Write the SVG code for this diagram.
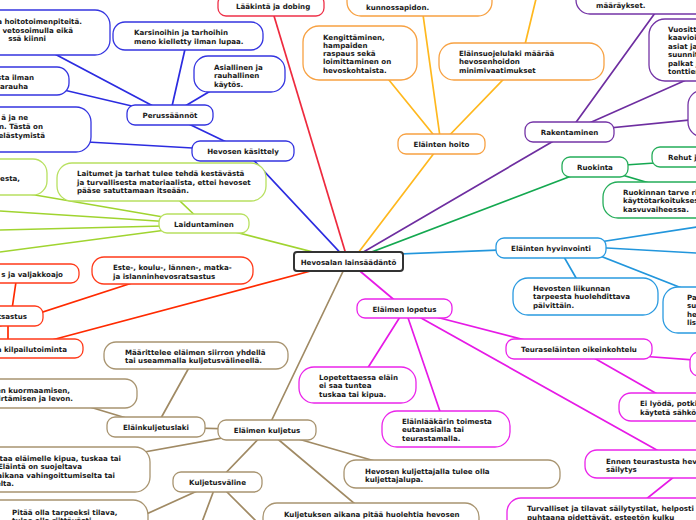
<svg xmlns="http://www.w3.org/2000/svg" width="696" height="520" viewBox="0 0 696 520">
<style>
text{font-family:"DejaVu Sans","Verdana",sans-serif;font-weight:bold;font-size:7.1px;fill:#1a1a1a}
.m{text-anchor:middle}.e{text-anchor:end}
rect{fill:#fff;stroke-width:1.3}
path{fill:none;stroke-width:1.7}
.bl rect{stroke:#3434e0}.bl path,path.bl{stroke:#2c2ce0}
.rd rect{stroke:#ff3a1a}path.rd{stroke:#ff2a00}
.lk rect{stroke:#ee3048}path.lk{stroke:#ee2a3e}
.or rect{stroke:#f7a142}path.or{stroke:#ffb81e}
.pu rect{stroke:#7434a6}path.pu{stroke:#6e2ea0}
.gr rect{stroke:#25ad5a}path.gr{stroke:#14a850}
.lb rect{stroke:#2a9ae0}path.lb{stroke:#2296dc}
.mg rect{stroke:#ea24ea}path.mg{stroke:#e61ae6}
.br rect{stroke:#a89470}path.br{stroke:#a08a64}
.li rect{stroke:#b8e060}path.li{stroke:#a0d430}
</style>
<rect width="696" height="520" style="fill:#fff;stroke:none"/>
<g id="connectors">
<path class="lk" d="M348 261L271 6"/>
<path class="bl" d="M348 261L245 151M170 115L245 151M0 137L245 151M170 115L188 36M170 115L239 74M170 115L0 75M170 115L0 25"/>
<path class="or" d="M352 261L441 144M441 144L367 53M441 144L420 -7M441 144L521 61M521 61L543 -30"/>
<path class="pu" d="M348 261L569 132M569 132L676 -16M569 132L720 65M569 132L720 117"/>
<path class="gr" d="M348 261L595 167M595 167L700 160M595 167L700 198"/>
<path class="lb" d="M360 255.5L551 248M580 245L700 226.5M580 246.5L700 253.2M590 252L720 303M560 250L583 290"/>
<path class="mg" d="M348 261L405 309M405 309L579 354M640 356L720 362M580 350L680 407M405 309L357 385M405 309L446 429M405 309L680 463M690 464L630 512"/>
<path class="br" d="M348 261L267 430M267 430L156 427M156 427L196 355M156 427L60 398M267 430L100 460M267 430L217 482M267 430L420 474M267 430L380 525M217 482L120 526M217 482L199 530M217 482L265 530"/>
<path class="li" d="M348 261L204 224M204 224L160 182M204 224L0 189M204 224L0 211M204 225L0 230M204 225L0 252"/>
<path class="rd" d="M348 261L18 349M8 320L8 345M0 326L172 270M17 275L11 316"/>
</g>
<g id="n-hoitotoimenpiteet" class="bl"><rect x="-60" y="10" width="170" height="45" rx="15"/><text class="e" x="82" y="24">a hoitotoimenpiteitä.</text><text class="e" x="73" y="32.5">i vetosoimulla eikä</text><text class="e" x="46" y="41">ssä kiinni</text></g>
<g id="n-karsinoihin" class="bl"><rect x="113" y="22" width="150" height="28" rx="12"/><text x="134" y="34.5">Karsinoihin ja tarhoihin</text><text x="134" y="43.5">meno kielletty ilman lupaa.</text></g>
<g id="n-asiallinen" class="bl"><rect x="194" y="56" width="91" height="36" rx="14"/><text x="214" y="69.5">Asiallinen ja</text><text x="214" y="78">rauhallinen</text><text x="214" y="86.5">käytös.</text></g>
<g id="n-ilman" class="bl"><rect x="-60" y="67" width="129" height="28" rx="12"/><text class="e" x="34" y="79.5">sta ilman</text><text class="e" x="28" y="88.5">karauha</text></g>
<g id="n-jane" class="bl"><rect x="-60" y="107" width="151" height="45" rx="15"/><text class="e" x="28" y="119.5">ä ja ne</text><text class="e" x="43" y="128.5">n. Tästä on</text><text class="e" x="45" y="137.5">elästymistä</text></g>
<g id="n-perussaannot" class="bl"><rect x="127" y="105" width="86" height="20" rx="8"/><text class="m" x="170" y="117.8">Perussäännöt</text></g>
<g id="n-kasittely" class="bl"><rect x="192" y="141" width="102" height="20" rx="8"/><text class="m" x="243" y="153.8">Hevosen käsittely</text></g>
<g id="n-laakinta" class="lk"><rect x="218" y="-5" width="106" height="21" rx="8"/><text x="236" y="9">Lääkintä ja dobing</text></g>
<g id="n-este" class="rd"><rect x="92" y="257" width="161" height="27" rx="12"/><text x="113" y="269.5">Este-, koulu-, lännen-, matka-</text><text x="113" y="278.5">ja islanninhevosratsastus</text></g>
<g id="n-valjakkoajo" class="rd"><rect x="-60" y="264" width="139" height="19" rx="8"/><text class="e" x="63" y="276.5">s ja valjakkoajo</text></g>
<g id="n-ratsastus" class="rd"><rect x="-50" y="306" width="93" height="20" rx="8"/><text class="e" x="27" y="318.5">tsastus</text></g>
<g id="n-kilpailu" class="rd"><rect x="-60" y="339" width="143" height="19" rx="8"/><text class="e" x="67" y="351.5">a kilpailutoiminta</text></g>
<g id="n-kunnossapito" class="or"><rect x="347" y="-30" width="145" height="46" rx="14"/><text x="366" y="9.5">kunnossapidon.</text></g>
<g id="n-kengitys" class="or"><rect x="303" y="26" width="114" height="54" rx="16"/><text x="323" y="39.5">Kengittäminen,</text><text x="323" y="47.8">hampaiden</text><text x="323" y="56.1">raspaus sekä</text><text x="323" y="64.4">loimittaminen on</text><text x="323" y="72.7">hevoskohtaista.</text></g>
<g id="n-elainsuojelulaki" class="or"><rect x="439" y="43" width="165" height="37" rx="15"/><text x="459" y="55.5">Eläinsuojelulaki määrää</text><text x="459" y="64">hevosenhoidon</text><text x="459" y="72.5">minimivaatimukset</text></g>
<g id="n-hoito" class="or"><rect x="398" y="134" width="87" height="20" rx="8"/><text class="m" x="441.5" y="146.8">Eläinten hoito</text></g>
<g id="n-maaraykset" class="pu"><rect x="576" y="-30" width="200" height="44" rx="14"/><text x="596" y="7.5">määräykset.</text></g>
<g id="n-vuosittaiset" class="pu"><rect x="649" y="19" width="100" height="62" rx="16"/><text x="668" y="31.5">Vuositt</text><text x="668" y="40">kaavioi</text><text x="668" y="48.5">asiat ja</text><text x="668" y="57">suunnit</text><text x="668" y="65.5">palkat j</text><text x="668" y="74">tonttien</text></g>
<g id="n-rak3" class="pu"><rect x="688" y="90" width="60" height="47" rx="15"/></g>
<g id="n-rakentaminen" class="pu"><rect x="525" y="122" width="89" height="20" rx="8"/><text class="m" x="569.5" y="134.8">Rakentaminen</text></g>
<g id="n-ruokinta" class="gr"><rect x="562" y="157" width="66" height="20" rx="8"/><text class="m" x="595" y="169.8">Ruokinta</text></g>
<g id="n-rehut" class="gr"><rect x="652" y="147" width="80" height="20" rx="8"/><text x="668" y="159.8">Rehut j</text></g>
<g id="n-tarve" class="gr"><rect x="603" y="182" width="120" height="36" rx="15"/><text x="623" y="194.5">Ruokinnan tarve ri</text><text x="623" y="203">käyttötarkoitukses</text><text x="623" y="211.5">kasvuvaiheessa.</text></g>
<g id="n-hyvinvointi" class="lb"><rect x="496" y="238" width="110" height="20" rx="8"/><text class="m" x="551" y="250.8">Eläinten hyvinvointi</text></g>
<g id="n-liikunta" class="lb"><rect x="513" y="278" width="145" height="37" rx="15"/><text x="533" y="290.5">Hevosten liikunnan</text><text x="533" y="299">tarpeesta huolehdittava</text><text x="533" y="307.5">päivittäin.</text></g>
<g id="n-pa" class="lb"><rect x="663" y="287" width="80" height="46" rx="15"/><text x="687" y="299.5">Pa</text><text x="687" y="308">su</text><text x="687" y="316.5">he</text><text x="687" y="325">lis</text></g>
<g id="n-lopetus" class="mg"><rect x="357" y="299" width="95" height="19" rx="8"/><text class="m" x="404.5" y="311.5">Eläimen lopetus</text></g>
<g id="n-teuras" class="mg"><rect x="506" y="339" width="146" height="20" rx="8"/><text class="m" x="579" y="351.8">Teuraseläinten oikeinkohtelu</text></g>
<g id="n-teuras2" class="mg"><rect x="690" y="352" width="40" height="24" rx="9"/></g>
<g id="n-eilyoda" class="mg"><rect x="619" y="393" width="110" height="28" rx="12"/><text x="640" y="405.5">Ei lyödä, potki</text><text x="640" y="414.5">käytetä sähkö</text></g>
<g id="n-lopetettaessa" class="mg"><rect x="299" y="367" width="117" height="36" rx="15"/><text x="319" y="379.5">Lopetettaessa eläin</text><text x="319" y="388">ei saa tuntea</text><text x="319" y="396.5">tuskaa tai kipua.</text></g>
<g id="n-elainlaakari" class="mg"><rect x="382" y="411" width="128" height="36" rx="15"/><text x="402" y="423.5">Eläinlääkärin toimesta</text><text x="402" y="432">eutanasialla tai</text><text x="402" y="440.5">teurastamalla.</text></g>
<g id="n-ennen" class="mg"><rect x="585" y="450" width="150" height="28" rx="12"/><text x="606" y="463.5">Ennen teurastusta heve</text><text x="606" y="472">säilytys</text></g>
<g id="n-turvalliset" class="mg"><rect x="507" y="498" width="230" height="40" rx="14"/><text x="527" y="510.5">Turvalliset ja tilavat säilytystilat, helposti</text><text x="527" y="519.5">puhtaana pidettävät, esteetön kulku</text></g>
<g id="n-maarittelee" class="br"><rect x="104" y="342" width="184" height="27" rx="12"/><text x="125" y="354.5">Määrittelee eläimen siirron yhdellä</text><text x="125" y="363">tai useammalla kuljetusvälineellä.</text></g>
<g id="n-kuljetuslaki" class="br"><rect x="107" y="417" width="98" height="20" rx="8"/><text class="m" x="156" y="429.8">Eläinkuljetuslaki</text></g>
<g id="n-kuormaaminen" class="br"><rect x="-60" y="379" width="197" height="29" rx="12"/><text class="e" x="70" y="392.5">en kuormaamisen,</text><text class="e" x="73" y="401">irtämisen ja levon.</text></g>
<g id="n-kipua" class="br"><rect x="-60" y="447" width="210" height="45" rx="15"/><text class="e" x="121" y="460.5">ttaa eläimelle kipua, tuskaa tai</text><text class="e" x="82" y="469">Eläintä on suojeltava</text><text class="e" x="115" y="477.5">aikana vahingoittumiselta tai</text><text class="e" x="14" y="486">elta.</text></g>
<g id="n-kuljetus" class="br"><rect x="218" y="420" width="98" height="20" rx="8"/><text class="m" x="267" y="432.8">Eläimen kuljetus</text></g>
<g id="n-kuljetusvaline" class="br"><rect x="173" y="472" width="89" height="20" rx="8"/><text class="m" x="217.5" y="484.8">Kuljetusväline</text></g>
<g id="n-tilava" class="br"><rect x="-60" y="500" width="208" height="40" rx="15"/><text x="12" y="514.5">Pitää olla tarpeeksi tilava,</text><text x="12" y="523">tulee olla riittävästi</text></g>
<g id="n-aikana" class="br"><rect x="263" y="503" width="216" height="40" rx="14"/><text x="284" y="516.5">Kuljetuksen aikana pitää huolehtia hevosen</text></g>
<g id="n-kuljettajalupa" class="br"><rect x="344" y="460" width="216" height="28" rx="12"/><text x="365" y="473.5">Hevosen kuljettajalla tulee olla</text><text x="365" y="482">kuljettajalupa.</text></g>
<g id="n-laiduntaminen" class="li"><rect x="159" y="214" width="90" height="19" rx="8"/><text class="m" x="204" y="226.5">Laiduntaminen</text></g>
<g id="n-laitumet" class="li"><rect x="57" y="163" width="209" height="38" rx="15"/><text x="77" y="175.5">Laitumet ja tarhat tulee tehdä kestävästä</text><text x="77" y="184.5">ja turvallisesta materiaalista, ettei hevoset</text><text x="77" y="193">pääse satuttamaan itseään.</text></g>
<g id="n-eesta" class="li"><rect x="-60" y="159" width="107" height="36" rx="14"/><text class="e" x="20" y="180.5">eesta,</text></g>
<g id="n-central"><rect x="294" y="252" width="109" height="19" rx="3" style="stroke:#333;stroke-width:2"/><text class="m" x="348.5" y="264.5">Hevosalan lainsäädäntö</text></g>
</svg>
